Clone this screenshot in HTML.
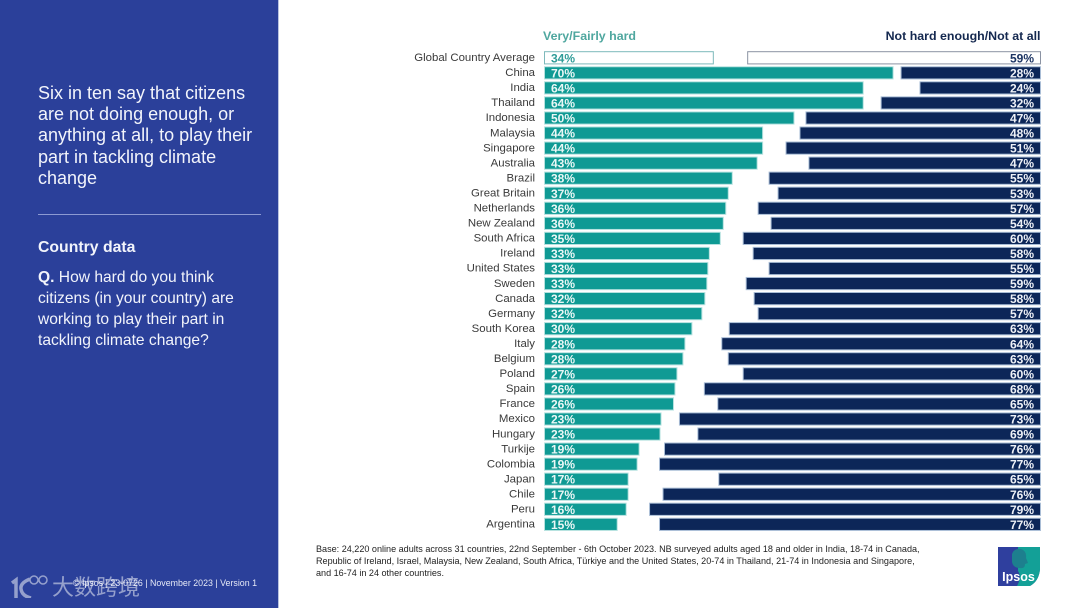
<!DOCTYPE html>
<html lang="en">
<head>
<meta charset="utf-8">
<title>Country data: how hard citizens are working on climate change</title>
<style>
html,body{margin:0;padding:0;background:#fff;}
#slide{position:relative;width:1080px;height:608px;overflow:hidden;background:#fff;font-family:"Liberation Sans",Arial,sans-serif;}
#panel{position:absolute;left:0;top:0;width:278px;height:608px;background:#2b409a;border-right:1px solid #b9c3e0;color:#f2f4fb;}
#headline{position:absolute;left:38px;top:82.5px;width:235px;font-size:18px;line-height:21.4px;white-space:nowrap;}
#rule{position:absolute;left:38px;top:214px;width:223px;height:1px;background:#8c9ad2;}
#section{position:absolute;left:38px;top:238.5px;font-size:15.8px;font-weight:bold;line-height:18px;}
#question{position:absolute;left:38px;top:266.5px;width:235px;font-size:15.6px;line-height:21.1px;white-space:nowrap;}
#footer{position:absolute;left:73px;top:578px;font-size:8.85px;line-height:11px;white-space:nowrap;color:#e6e9f6;}
#watermark{position:absolute;left:10px;top:570px;width:135px;height:34px;color:#fff;opacity:.5;}
#watermark-text{position:absolute;left:42px;top:5px;font-family:"Liberation Sans","Noto Sans CJK SC",sans-serif;font-size:22px;line-height:26px;white-space:nowrap;}
#watermark-mark{position:absolute;left:0;top:4px;}
#chart{position:absolute;left:0;top:0;}
#base-note{position:absolute;left:316px;top:542.5px;width:640px;font-size:9.07px;line-height:12.2px;color:#222;white-space:nowrap;}
#logo{position:absolute;left:998px;top:547px;}
</style>
</head>
<body>
<div id="slide">
  <div id="panel">
    <div id="headline">Six in ten say that citizens<br>are not doing enough, or<br>anything at all, to play their<br>part in tackling climate<br>change</div>
    <div id="rule"></div>
    <div id="section">Country data</div>
    <div id="question"><b>Q.</b> How hard do you think<br>citizens (in your country) are<br>working to play their part in<br>tackling climate change?</div>
    <div id="footer">© Ipsos | 23-0726 | November 2023 | Version 1</div>
    <div id="watermark">
      <svg id="watermark-mark" width="42" height="24" viewBox="0 0 42 24">
        <path d="M2 9 L6 6 V24" fill="none" stroke="#fff" stroke-width="3.5"/>
        <path d="M20 5 Q10 9 11 15 Q12 22 21 24" fill="none" stroke="#fff" stroke-width="3.5"/>
        <circle cx="24" cy="6" r="4" fill="none" stroke="#fff" stroke-width="1.5"/>
        <circle cx="33" cy="6" r="4" fill="none" stroke="#fff" stroke-width="1.5"/>
      </svg>
      <div id="watermark-text">大数跨境</div>
    </div>
  </div>

  <svg id="chart" width="1080" height="608" viewBox="0 0 1080 608"></svg>

  <div id="base-note">Base: 24,220 online adults across 31 countries, 22nd September - 6th October 2023. NB surveyed adults aged 18 and older in India, 18-74 in Canada,<br>Republic of Ireland, Israel, Malaysia, New Zealand, South Africa, Türkiye and the United States, 20-74 in Thailand, 21-74 in Indonesia and Singapore,<br>and 16-74 in 24 other countries.</div>

  <svg id="logo" width="42" height="39" viewBox="0 0 42 39">
    <path d="M0 0 H42 V22 Q41 34 32 39 H0 Z" fill="#2f3f9e"/>
    <path d="M20 0 H42 V22 Q41 34 32 39 H19 Q24 30 20 24 Z" fill="#13a097"/>
    <path d="M14 7 Q16 1 23 2 Q29 4 28 11 L30 16 L27 17 Q27 22 22 21 Q15 21 14 15 Z" fill="#1d7f8e"/>
    <text x="20.5" y="34" text-anchor="middle" font-family="Liberation Sans, sans-serif" font-size="12.5" font-weight="bold" fill="#fff">Ipsos</text>
  </svg>
</div>

<script>
const categories = ["Global Country Average","China","India","Thailand","Indonesia","Malaysia","Singapore","Australia","Brazil","Great Britain","Netherlands","New Zealand","South Africa","Ireland","United States","Sweden","Canada","Germany","South Korea","Italy","Belgium","Poland","Spain","France","Mexico","Hungary","Turkije","Colombia","Japan","Chile","Peru","Argentina"];
const hardValues = [33.9,70,64,64,50.1,43.8,43.8,42.7,37.7,36.9,36.4,35.9,35.3,33.1,32.8,32.6,32.2,31.6,29.6,28.2,27.8,26.6,26.2,25.9,23.4,23.2,19,18.6,16.8,16.8,16.4,14.6];
const notHardValues = [58.8,28,24.2,32,47.1,48.3,51.1,46.5,54.5,52.7,56.7,54.1,59.7,57.7,54.5,59.1,57.5,56.7,62.5,64,62.7,59.7,67.5,64.8,72.5,68.8,75.5,76.5,64.6,75.8,78.5,76.5];
const seriesNames = ["Very/Fairly hard","Not hard enough/Not at all"];

const svgNS = "http://www.w3.org/2000/svg";
const chart = document.getElementById("chart");
const unitPx = 4.98;
const leftBase = 544.5;
const rightBase = 1040.5;
const firstTop = 51.7;
const rowStep = 15.05;
const barH = 12.2;

function xHard(v){ return leftBase + v * unitPx; }
function xNotHard(v){ return rightBase - v * unitPx; }
function yRow(i){ return firstTop + i * rowStep; }

function makeRect(x, y, w, h, fill, stroke){
  const r = document.createElementNS(svgNS, "rect");
  r.setAttribute("x", x);
  r.setAttribute("y", y);
  r.setAttribute("width", w);
  r.setAttribute("height", h);
  r.setAttribute("fill", fill);
  r.setAttribute("stroke", stroke);
  r.setAttribute("stroke-width", "1");
  return r;
}
function makeText(x, y, str, anchor, size, weight, fill){
  const t = document.createElementNS(svgNS, "text");
  t.setAttribute("x", x);
  t.setAttribute("y", y);
  t.setAttribute("text-anchor", anchor);
  t.setAttribute("font-family", "Liberation Sans, Arial, sans-serif");
  t.setAttribute("font-size", size);
  t.setAttribute("font-weight", weight);
  t.setAttribute("fill", fill);
  t.textContent = str;
  return t;
}

const legendHard = makeText(543, 40, seriesNames[0], "start", 12.4, "bold", "#4fa79f");


chart.appendChild(legendHard);

const legendNot = makeText(1040.5, 40, seriesNames[1], "end", 12.4, "bold", "#14284f");


chart.appendChild(legendNot);

categories.forEach(function(name, i){
  const y = yRow(i);
  const isGlobal = i === 0;

  const label = makeText(535, y + 9.3, name, "end", 11.4, "normal", "#3a3a3a");
  
  
  chart.appendChild(label);

  const hx = xHard(hardValues[i]);
  const hardBar = makeRect(leftBase, y, hx - leftBase, barH, isGlobal ? "#ffffff" : "#0f9a94", isGlobal ? "#7db9bb" : "#b5e2df");
  
  
  chart.appendChild(hardBar);

  const nx = xNotHard(notHardValues[i]);
  const notBar = makeRect(nx, y, rightBase - nx, barH, isGlobal ? "#ffffff" : "#0c2658", isGlobal ? "#8b93a3" : "#a9bdd6");
  
  
  chart.appendChild(notBar);

  const hardLabel = makeText(551, y + 10.6, Math.round(hardValues[i]) + "%", "start", 12, "bold", isGlobal ? "#2f9c98" : "#eaf7f6");
  
  
  chart.appendChild(hardLabel);

  const notLabel = makeText(1034, y + 10.6, Math.round(notHardValues[i]) + "%", "end", 12, "bold", isGlobal ? "#1c3463" : "#eef1f7");
  
  
  chart.appendChild(notLabel);
});
</script>
</body>
</html>
